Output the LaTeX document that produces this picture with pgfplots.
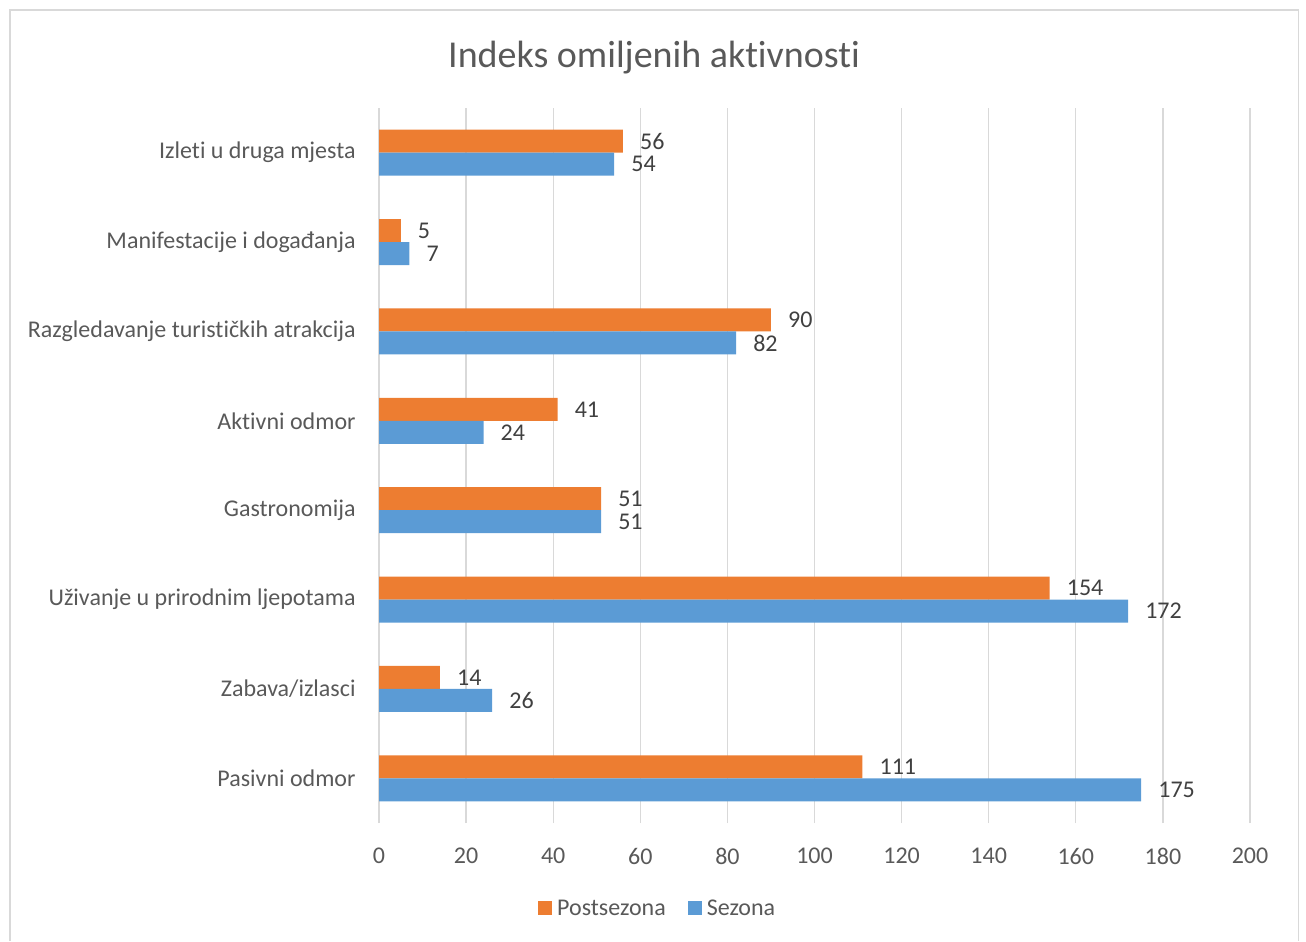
\documentclass[border=0pt]{standalone}
\usepackage{pgfplots}
\pgfplotsset{compat=1.18}
\usepackage{fontspec}
\setmainfont{Carlito}[Ligatures={NoCommon}]
\definecolor{orng}{HTML}{ED7D31}
\definecolor{blu}{HTML}{5B9BD5}
\definecolor{gridc}{HTML}{D9D9D9}
\definecolor{txt}{HTML}{595959}
\definecolor{vtxt}{HTML}{404040}
\begin{document}
\begin{tikzpicture}[x=1bp,y=1bp]
\path[use as bounding box] (0,0) rectangle (1306,941);
\draw[gridc, line width=1.5bp] (9.75,0) -- (9.75,931) -- (1298.25,931) -- (1298.25,0);
\node[text=txt, font=\fontsize{38bp}{44bp}\selectfont] at (654,883) {Indeks omiljenih aktivnosti};
\begin{axis}[
  at={(379bp,118bp)}, anchor=south west,
  scale only axis, width=871bp, height=715bp,
  xmin=0, xmax=200, ymin=-0.5, ymax=7.5,
  xtick={0,20,...,200}, ytick={0,...,7},
  yticklabels={Pasivni odmor, Zabava/izlasci, Uživanje u prirodnim ljepotama, Gastronomija, Aktivni odmor, Razgledavanje turističkih atrakcija, Manifestacije i događanja, Izleti u druga mjesta},
  /pgf/number format/assume math mode=true,
  xmajorgrids, grid style={gridc, line width=1.3bp},
  axis line style={draw=none}, major tick style={draw=none},
  ticklabel style={font=\fontsize{24bp}{28bp}\selectfont, text=txt, inner sep=0pt},
  xticklabel style={anchor=north, yshift=-25bp},
  yticklabel style={anchor=east, xshift=-19bp},
  xbar, bar width=23bp,
  nodes near coords,
  nodes near coords style={font=\fontsize{24bp}{28bp}\selectfont, text=vtxt, inner sep=0pt, anchor=west, xshift=17bp},
  legend columns=2,
  legend style={at={(0.32,-0.119)}, anchor=center, draw=none, font=\fontsize{24bp}{28bp}\selectfont, text=txt,
    /tikz/every odd column/.append style={column sep=3bp},
    /tikz/every even column/.append style={column sep=20bp}},
  legend image code/.code={\fill[#1,draw=none] (0bp,-7bp) rectangle (14bp,7bp);},
]
\addplot[fill=orng, draw=none, bar shift=11.5bp] coordinates {(111,0) (14,1) (154,2) (51,3) (41,4) (90,5) (5,6) (56,7)};
\addplot[fill=blu, draw=none, bar shift=-11.5bp] coordinates {(175,0) (26,1) (172,2) (51,3) (24,4) (82,5) (7,6) (54,7)};
\legend{Postsezona, Sezona}
\end{axis}
\end{tikzpicture}
\end{document}
